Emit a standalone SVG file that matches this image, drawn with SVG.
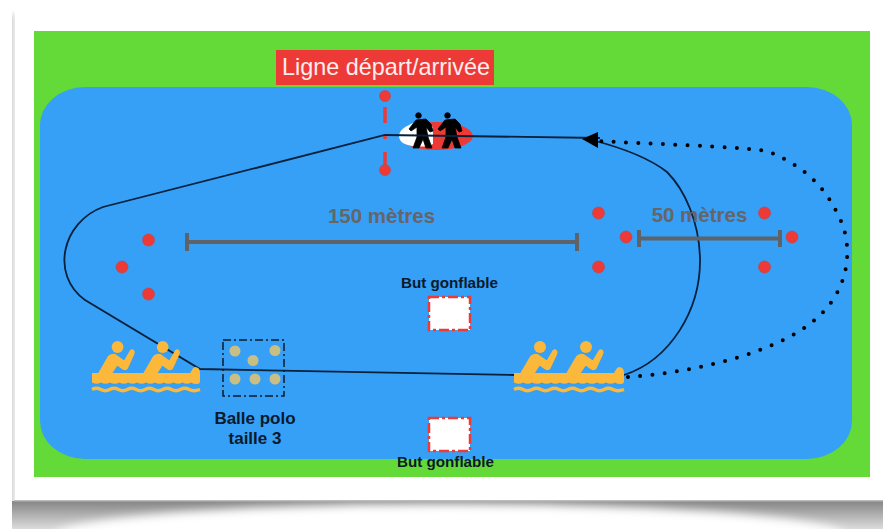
<svg xmlns="http://www.w3.org/2000/svg" width="883" height="529" viewBox="0 0 883 529">
<style>
text{font-family:"Liberation Sans",Arial,sans-serif}
.b{font-weight:700;fill:#0a1a2a;text-anchor:middle}
.g{font-weight:700;fill:#666;text-anchor:middle;font-size:20.500px}
.dot{fill:#ee3a36;stroke:#b84a50;stroke-width:.7}
.dim{stroke:#5f6266;stroke-width:4;fill:none}
.goal{fill:#fff;stroke:#ee3a36;stroke-width:2.500;stroke-dasharray:10 3 3 3}
.ball{fill:#c9bf85}
.wave{fill:none;stroke:#fbb83a;stroke-width:3.400}
.boat{fill:#fbb83a}
.body{stroke:#fbb83a;stroke-width:2.200;stroke-linejoin:round}
.ln{fill:none;stroke:#08203a;stroke-width:1.800}
</style>
<defs>
<filter id="blur" x="-20%" y="-50%" width="140%" height="200%"><feGaussianBlur stdDeviation="5"/></filter>
<filter id="soft" x="-5%" y="-5%" width="110%" height="110%"><feGaussianBlur stdDeviation="2.500"/></filter>
<linearGradient id="sh" x1="0" y1="0" x2="0" y2="1"><stop offset="0" stop-color="#858585"/><stop offset="1" stop-color="#dcdcdc"/></linearGradient>
<g id="rower">
<circle cx="26" cy="7" r="6"/>
<path class="body" d="M7 34 L17 17 Q19 14.500 23 15 L33 22 L39.500 11 Q41 10 42 11 Q43 12 42 14 L35.500 28 Q34 30 31 28 L25.500 24 L19 34Z"/>
</g>
<g id="boatIcon">
<path d="M0 33 H100 Q103 27 105 27 Q110 27 110 33 V41 Q110 44 107 44 Q103 44 101 42.500 Q97 45 92 42.500 Q88 45 83 42.500 Q78 45 73 42.500 Q69 45 64 42.500 Q60 45 55 42.500 Q50 45 46 42.500 Q41 45 37 42.500 Q32 45 28 42.500 Q23 45 18 42.500 Q14 45 9 42.500 Q5 45 0 42.500Z"/>
<use href="#rower"/>
<use href="#rower" x="46"/>
<path class="wave" d="M0 49.500 Q4.500 47 9 49.500 T18 49.500 T27 49.500 T36 49.500 T45 49.500 T54 49.500 T63 49.500 T72 49.500 T81 49.500 T90 49.500 T99 49.500 T110 49.500"/>
</g>
</defs>
<rect width="883" height="529" fill="#fff"/>
<g id="card-shadow">
<rect x="8" y="14" width="6" height="490" fill="#ccc" filter="url(#soft)"/>
<rect x="0" y="501" width="883" height="28" fill="url(#sh)"/>
<ellipse cx="450" cy="536" rx="395" ry="32" fill="#fff" filter="url(#blur)"/>
<rect x="0" y="0" width="12" height="529" fill="#fff"/>
<rect x="14" y="500" width="869" height="1.500" fill="#bbb"/>
</g>
<g id="field">
<rect x="34" y="31" width="836" height="446" fill="#64da38"/>
<rect x="40" y="87" width="812" height="372" rx="45" ry="38" fill="#369ff6"/>
</g>
<g id="start-label">
<rect x="276" y="50" width="218" height="35" fill="#ee3a36"/>
<text x="386" y="75" font-size="23.400" fill="#fdeeee" text-anchor="middle">Ligne départ/arrivée</text>
</g>
<g id="start-line">
<path d="M385 107V123M385 135V139M385 152V165" stroke="#ee3a36" stroke-width="3.500" fill="none"/>
<circle class="dot" cx="385" cy="96" r="5.500"/>
<circle class="dot" cx="385" cy="170" r="5.500"/>
</g>
<g id="referees">
<ellipse cx="436" cy="136" rx="37" ry="14" fill="#ee3a36"/>
<path d="M433 127 A34 14 0 0 0 416 122 Q399 128 399 136 Q399 145 416 146.500 Q428 147 433 144Z" fill="#fff"/>
<g id="walker" fill="#000" stroke="#000" stroke-width=".8" stroke-linejoin="round">
<circle cx="418.500" cy="115.500" r="2.800"/>
<path d="M416 120 L426 119 L431 124 L433 131 L430 132 L426 127 L428 137 L432 148 L426 148 L423 139 L419 148 L413 148 L417 137 L417 127 L411 131 L409 129Z"/>
</g>
<use href="#walker" x="29"/>
</g>
<g id="connectors">
<path class="ln" d="M600 138 L385 135 L103 207 C62 222 50 275 85 300 L200 369 L515 375"/>
<path class="ln" d="M624 375 C670 360 701 310 700 258 C699 222 685 190 667 172 C648 157 615 146 592 140"/>
<path d="M628 377 C700 372 790 350 825 310 C852 280 852 240 838 215 C822 180 795 162 767 151 C730 146 650 144 598 141" fill="none" stroke="#000" stroke-width="4" stroke-linecap="round" stroke-dasharray="0 12.300"/>
<path d="M582 139 L598 132 V148Z" fill="#000"/>
</g>
<g id="dimension-150">
<path class="dim" d="M187 242H577M187 233V251M577 233V251"/>
<text class="g" x="381.500" y="222.500">150 mètres</text>
</g>
<g id="dimension-50">
<path class="dim" d="M639 238.500H780M639 230V247M780 230V247"/>
<text class="g" x="699.500" y="222">50 mètres</text>
</g>
<g id="buoys">
<circle class="dot" cx="148.500" cy="240" r="6"/><circle class="dot" cx="122" cy="267" r="6"/><circle class="dot" cx="148.500" cy="294" r="6"/>
<circle class="dot" cx="598.500" cy="213" r="6"/><circle class="dot" cx="626" cy="237" r="6"/><circle class="dot" cx="598.500" cy="267" r="6"/>
<circle class="dot" cx="764.500" cy="213" r="6"/><circle class="dot" cx="792" cy="237" r="6"/><circle class="dot" cx="764.500" cy="267" r="6"/>
</g>
<g id="goal-top">
<text class="b" x="449.500" y="288" font-size="15" textLength="97" lengthAdjust="spacingAndGlyphs">But gonflable</text>
<rect class="goal" x="429" y="297" width="41" height="33"/>
</g>
<g id="goal-bottom">
<rect class="goal" x="429" y="418" width="41" height="33"/>
<text class="b" x="445.500" y="467" font-size="15" textLength="97" lengthAdjust="spacingAndGlyphs">But gonflable</text>
</g>
<g id="balls">
<rect x="223" y="340" width="61" height="56" fill="none" stroke="#0a1a2a" stroke-width="1.500" stroke-dasharray="8 3 2 3"/>
<circle class="ball" cx="235" cy="351" r="5.500"/><circle class="ball" cx="253" cy="360.500" r="5.500"/><circle class="ball" cx="275" cy="350.500" r="5.500"/>
<circle class="ball" cx="235" cy="379" r="5.500"/><circle class="ball" cx="255" cy="379" r="5.500"/><circle class="ball" cx="275" cy="379" r="5.500"/>
<text class="b" x="255" y="423.500" font-size="17">Balle polo</text>
<text class="b" x="255" y="444" font-size="17">taille 3</text>
</g>
<g id="boat-left" class="boat"><use href="#boatIcon" transform="translate(92 340) scale(.982 1)"/></g>
<g id="boat-right" class="boat"><use href="#boatIcon" transform="translate(514 340)"/></g>
</svg>
